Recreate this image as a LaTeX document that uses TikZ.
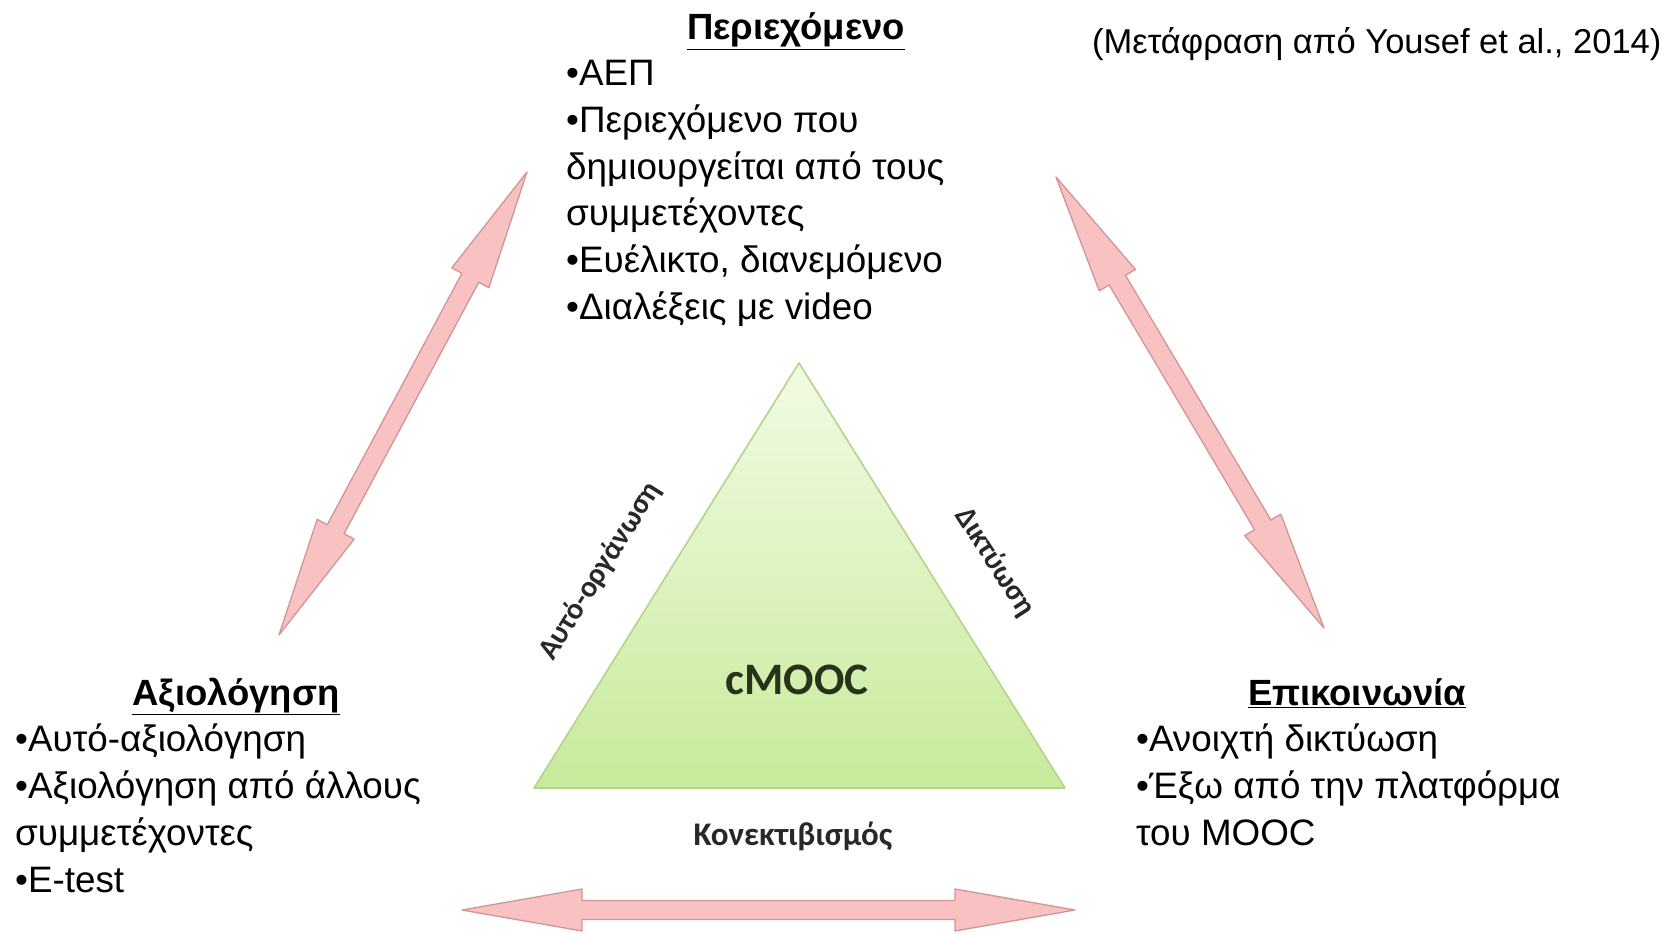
\documentclass[tikz,border=0pt]{standalone}
\usepackage{fontspec}
\setmainfont{Liberation Sans}
\newfontfamily\calfont{Carlito}
\usetikzlibrary{calc}
\definecolor{pinkfill}{RGB}{248,194,194}
\definecolor{pinkedge}{RGB}{212,148,148}
\definecolor{tritop}{RGB}{242,251,228}
\definecolor{tribot}{RGB}{200,234,155}
\definecolor{triedge}{RGB}{180,212,140}
\definecolor{labelc}{RGB}{40,40,40}
\definecolor{moocc}{RGB}{38,52,28}
\tikzset{
  blockarrow/.style={fill=pinkfill, draw=pinkedge, line width=1.3pt, line join=round},
  titletext/.style={inner sep=0, font=\bfseries\fontsize{36.5}{43}\selectfont},
  bodytext/.style={inner sep=0, align=left, font=\fontsize{36.8}{46.8}\selectfont},
  sidelabel/.style={inner sep=0, text=labelc, font=\calfont\bfseries\fontsize{30}{36}\selectfont},
}
\newcommand\dblarrow[2]{%
  \coordinate (#1h) at ($(#1)!120pt!(#2)$);
  \coordinate (#2h) at ($(#2)!120pt!(#1)$);
  \draw[blockarrow] (#1)
    -- ($(#1h)!21pt!90:(#2)$) -- ($(#1h)!9.5pt!90:(#2)$)
    -- ($(#2h)!9.5pt!-90:(#1)$) -- ($(#2h)!21pt!-90:(#1)$)
    -- (#2)
    -- ($(#2h)!21pt!90:(#1)$) -- ($(#2h)!9.5pt!90:(#1)$)
    -- ($(#1h)!9.5pt!-90:(#2)$) -- ($(#1h)!21pt!-90:(#2)$)
    -- cycle;}
\begin{document}
\begin{tikzpicture}[x=1pt,y=-1pt]
\useasboundingbox[fill=white] (0,0) rectangle (1675,934);
% triangle
\coordinate (ta) at (799,363);
\coordinate (tl) at (534,788);
\coordinate (tr) at (1065,788);
\shade[top color=tritop, bottom color=tribot] (ta) -- (tl) -- (tr) -- cycle;
\draw[triedge, line width=1.6pt, line join=round] (ta) -- (tl) -- (tr) -- cycle;
\node[inner sep=0, text=moocc, font=\calfont\bfseries\fontsize{45}{50}\selectfont] (mooc) at (797,680) {cMOOC};
\node[sidelabel, rotate=58] (selforg) at (600,571) {Αυτό-οργάνωση};
\node[sidelabel, rotate=-57] (network) at (995,562) {Δικτύωση};
\node[sidelabel, font=\calfont\bfseries\fontsize{33}{38}\selectfont] (connect) at (793,836) {Κονεκτιβισμός};
% arrows
\coordinate (lta) at (527,172);
\coordinate (ltb) at (279,635);
\coordinate (rta) at (1056,177);
\coordinate (rtb) at (1324,628);
\coordinate (bta) at (462,910);
\coordinate (btb) at (1075,910);
\dblarrow{lta}{ltb}
\dblarrow{rta}{rtb}
\dblarrow{bta}{btb}
% top block
\node[titletext, anchor=base] (ptitle) at (796,40) {\underline{Περιεχόμενο}};
\node[bodytext, anchor=north west] (pbody) at (566,60) {•ΑΕΠ\\•Περιεχόμενο που\\δημιουργείται από τους\\συμμετέχοντες\\•Ευέλικτο, διανεμόμενο\\•Διαλέξεις με video};
% citation
\node[inner sep=0, anchor=base west, font=\fontsize{34.5}{40}\selectfont] (cite) at (1092,54) {(Μετάφραση από Yousef et al., 2014)};
% left block
\node[titletext, anchor=base] (atitle) at (236,705) {\underline{Αξιολόγηση}};
\node[bodytext, anchor=north west] (abody) at (15,724) {•Αυτό-αξιολόγηση\\•Αξιολόγηση από άλλους\\συμμετέχοντες\\•E-test};
% right block
\node[titletext, anchor=base] (etitle) at (1357,705) {\underline{Επικοινωνία}};
\node[bodytext, anchor=north west] (ebody) at (1136,724) {•Ανοιχτή δικτύωση\\•Έξω από την πλατφόρμα\\του MOOC};
\end{tikzpicture}
\end{document}
